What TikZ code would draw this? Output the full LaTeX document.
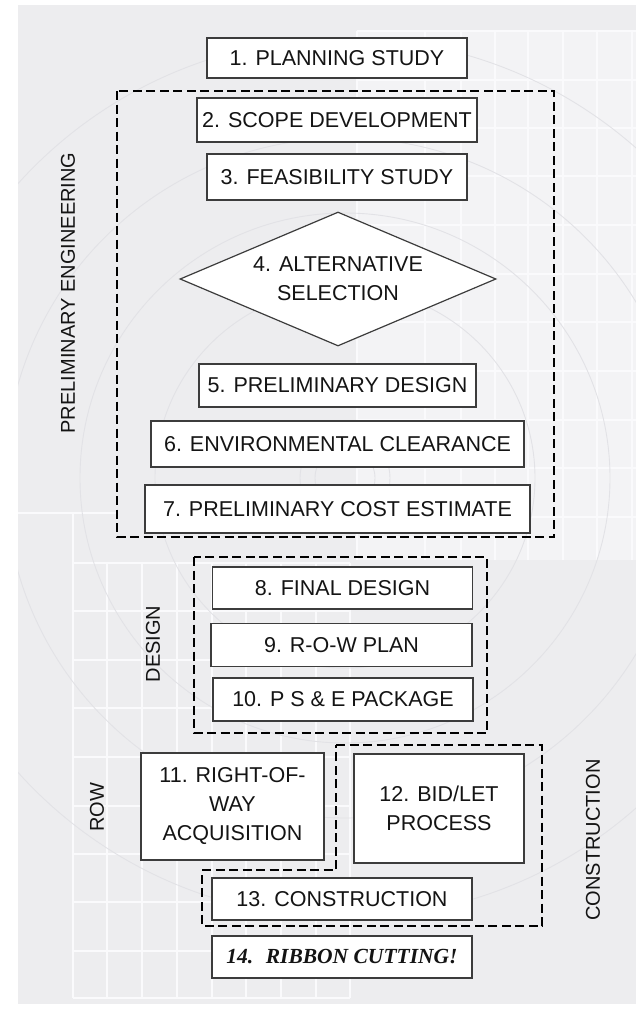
\documentclass[tikz,border=0pt]{standalone}
\usepackage{fontspec}
\setmainfont{Liberation Sans}
\newfontfamily\ribbonfont{Liberation Serif}
\usetikzlibrary{shapes.geometric}

\definecolor{paper}{RGB}{237,237,239}
\definecolor{paperlight}{RGB}{243,243,245}
\definecolor{gridwhite}{RGB}{250,250,252}
\definecolor{arcgray}{RGB}{226,226,230}
\definecolor{boxline}{RGB}{60,60,60}
\definecolor{ink}{RGB}{20,20,20}

\tikzset{
  stepbox/.style={draw=boxline, line width=1.2pt, fill=white, rectangle, inner sep=0pt,
    text=ink, align=center, font=\fontsize{21.5}{29}\selectfont},
  groupline/.style={draw=black, line width=1.8pt, dash pattern=on 9pt off 4.5pt},
  sidelabel/.style={rotate=90, text=ink, font=\fontsize{20}{24}\selectfont},
  gridline/.style={draw=gridwhite, line width=1.2pt},
  arcline/.style={draw=arcgray, line width=0.9pt}
}

\begin{document}
\begin{tikzpicture}[x=1pt,y=1pt,yscale=-1,xscale=1]
\useasboundingbox (0,0) rectangle (636,1009);

%Background: paper, grids and arcs
\fill [white] (0,0) rectangle (636,1009);
\begin{scope}
\clip (18,5) rectangle (636,1004);
\fill [paper] (18,5) rectangle (636,1004);
\fill [paperlight] (357,31) rectangle (636,560);
\draw [gridline] (357,31) -- (357,560) (425,31) -- (425,560) (461,31) -- (461,560) (495,31) -- (495,560) (528,31) -- (528,560) (563,31) -- (563,560) (597,31) -- (597,560) (632,31) -- (632,560);
\draw [gridline] (357,31) -- (636,31) (357,80) -- (636,80) (357,128) -- (636,128) (357,176) -- (636,176) (357,225) -- (636,225) (357,274) -- (636,274) (357,322) -- (636,322) (357,371) -- (636,371) (357,420) -- (636,420) (357,468) -- (636,468) (357,517) -- (636,517);
\draw [gridline] (73,513) -- (73,998) (107,563) -- (107,998) (142,563) -- (142,998) (177,563) -- (177,998) (212,563) -- (212,998) (246,563) -- (246,998) (281,563) -- (281,998) (316,563) -- (316,998) (350,563) -- (350,998);
\draw [gridline] (18,513) -- (117,513) (73,563) -- (350,563) (73,611) -- (350,611) (73,660) -- (350,660) (73,708) -- (350,708) (73,757) -- (350,757) (73,806) -- (350,806) (73,854) -- (350,854) (73,902) -- (350,902) (73,951) -- (350,951) (73,998) -- (350,998);
\draw [arcline] (345,478) circle (30) (345,478) circle (45);
\draw [arcline] (345,478) circle (190) (345,478) circle (265) (345,478) circle (340) (345,478) circle (440);
\end{scope}

%Group: preliminary engineering
\draw [groupline] (117,91) rectangle (554,537);
%Group: design
\draw [groupline] (194,557) rectangle (487,733);
%Group: construction
\draw [groupline] (336,745) -- (542,745) -- (542,926) -- (202,926) -- (202,870) -- (336,870) -- cycle;

%Shape: Rectangle
\node [stepbox, minimum width=260pt, minimum height=40pt] (plan) at (337,58) {1. PLANNING STUDY};
%Shape: Rectangle
\node [stepbox, minimum width=280pt, minimum height=44pt] (scope) at (337,120) {2. SCOPE DEVELOPMENT};
%Shape: Rectangle
\node [stepbox, minimum width=260pt, minimum height=46pt] (feas) at (337,177) {3. FEASIBILITY STUDY};
%Shape: Diamond
\node [stepbox, diamond, aspect=2.36, minimum width=316pt, minimum height=134pt] (alt) at (338,279) {4. ALTERNATIVE\\SELECTION};
%Shape: Rectangle
\node [stepbox, minimum width=277pt, minimum height=43pt] (prelim) at (337.5,385.5) {5. PRELIMINARY DESIGN};
%Shape: Rectangle
\node [stepbox, minimum width=373pt, minimum height=46pt] (env) at (337.5,444) {6. ENVIRONMENTAL CLEARANCE};
%Shape: Rectangle
\node [stepbox, minimum width=385pt, minimum height=48pt] (cost) at (337.5,509) {7. PRELIMINARY COST ESTIMATE};

%Shape: Rectangle
\node [stepbox, minimum width=260pt, minimum height=42pt] (final) at (342.5,588) {8. FINAL DESIGN};
%Shape: Rectangle
\node [stepbox, minimum width=261pt, minimum height=43pt] (rowplan) at (341.5,645) {9. R-O-W PLAN};
%Shape: Rectangle
\node [stepbox, minimum width=260pt, minimum height=43pt] (pse) at (343,699.5) {10. P S \& E PACKAGE};

%Shape: Rectangle
\node [stepbox, minimum width=183pt, minimum height=107pt] (acq) at (232.5,806.5) {11. RIGHT-OF-\\WAY\\ACQUISITION};
%Shape: Rectangle
\node [stepbox, minimum width=170pt, minimum height=109pt] (bid) at (439,808.5) {12. BID/LET\\PROCESS};
%Shape: Rectangle
\node [stepbox, minimum width=260pt, minimum height=42pt] (build) at (342,899) {13. CONSTRUCTION};
%Shape: Rectangle
\node [stepbox, minimum width=260pt, minimum height=42pt, font=\ribbonfont\bfseries\itshape\fontsize{21.5}{29}\selectfont] (ribbon) at (342,957) {14.~ RIBBON CUTTING!};

% Text Node
\node [sidelabel] (pelabel) at (68,293) {PRELIMINARY ENGINEERING};
% Text Node
\node [sidelabel] (designlabel) at (153,644) {DESIGN};
% Text Node
\node [sidelabel] (rowlabel) at (97,807) {ROW};
% Text Node
\node [sidelabel] (constlabel) at (593,840) {CONSTRUCTION};

\end{tikzpicture}
\end{document}
